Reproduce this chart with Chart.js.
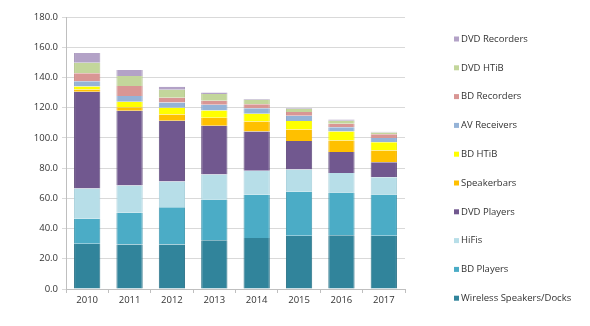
<!DOCTYPE html>
<html>
<head>
<meta charset="utf-8">
<script src="https://cdn.jsdelivr.net/npm/chart.js@4/dist/chart.umd.min.js"></script>
<style>
  html, body { margin: 0; padding: 0; background: #fff; }
  #wrap { width: 590px; height: 326px; position: relative; }
</style>
</head>
<body>
<div id="wrap"><canvas id="units-chart"></canvas></div>
<script>
const years = ['2010', '2011', '2012', '2013', '2014', '2015', '2016', '2017'];

// unit sales per product group, stacked bottom to top
const wirelessSpeakers = [30.0, 29.5, 29.5, 32.3, 33.8, 35.2, 35.6, 35.2];
const bdPlayers        = [16.5, 21.0, 24.6, 27.0, 28.6, 29.2, 28.2, 27.4];
const hifis            = [20.0, 18.0, 17.1, 16.5, 15.9, 14.7, 12.9, 11.4];
const dvdPlayers       = [64.0, 49.4, 40.2, 32.3, 25.9, 18.9, 13.9,  9.9];
const speakerbars      = [ 1.5,  2.3,  4.0,  5.3,  6.6,  7.5,  7.6,  7.7];
const bdHtib           = [ 2.0,  3.7,  4.6,  4.8,  5.2,  5.7,  6.0,  5.5];
const avReceivers      = [ 3.5,  3.9,  3.5,  3.8,  3.6,  3.5,  2.8,  2.9];
const bdRecorders      = [ 5.3,  6.6,  3.1,  2.6,  2.6,  2.4,  2.4,  2.4];
const dvdHtib          = [ 7.0,  6.6,  5.3,  4.4,  3.1,  2.2,  2.0,  1.1];
const dvdRecorders     = [ 6.3,  4.0,  1.9,  1.1,  0.4,  0.5,  0.7,  0.5];

const yTicks = [0, 20, 40, 60, 80, 100, 120, 140, 160, 180];

const series = [
    { label: 'Wireless Speakers/Docks', data: wirelessSpeakers, color: '#31849B', edge: '#2a7287' },
    { label: 'BD Players', data: bdPlayers, color: '#4BACC6', edge: '#4299b0' },
    { label: 'HiFis', data: hifis, color: '#B7DEE8', edge: '#a7d0db' },
    { label: 'DVD Players', data: dvdPlayers, color: '#71588F', edge: '#624c7d' },
    { label: 'Speakerbars', data: speakerbars, color: '#FFC000', edge: '#f0b400' },
    { label: 'BD HTiB', data: bdHtib, color: '#FFFF00', edge: '#f2f200' },
    { label: 'AV Receivers', data: avReceivers, color: '#95B3D7', edge: '#86a3c7' },
    { label: 'BD Recorders', data: bdRecorders, color: '#D99694', edge: '#c98684' },
    { label: 'DVD HTiB', data: dvdHtib, color: '#C3D69B', edge: '#b3c68b' },
    { label: 'DVD Recorders', data: dvdRecorders, color: '#B3A2C7', edge: '#a392b7' }
];

const FONT = '"Open Sans", "DejaVu Sans", sans-serif';
Chart.defaults.font.family = FONT;
Chart.defaults.font.size = 9;
Chart.defaults.color = '#333';

// legend on the right, top entry is the top of the stack
const sideLegend = {
    id: 'sideLegend',
    afterDraw(chart) {
        const ctx = chart.ctx;
        const sets = chart.data.datasets.slice().reverse();
        ctx.save();
        ctx.font = '9.5px ' + FONT;
        ctx.textBaseline = 'middle';
        ctx.textAlign = 'left';
        sets.forEach((ds, i) => {
            const y = 39 + i * 28.8;
            ctx.fillStyle = ds.backgroundColor;
            ctx.fillRect(454, y - 2.5, 5, 5);
            ctx.fillStyle = '#333';
            ctx.fillText(ds.label, 461, y);
        });
        ctx.restore();
    }
};

new Chart(document.getElementById('units-chart'), {
    type: 'bar',
    data: {
        labels: years,
        datasets: series.map(s => ({
            label: s.label,
            data: s.data,
            backgroundColor: s.color,
            borderColor: s.edge,
            borderWidth: { left: 1, right: 1, top: 0, bottom: 0 },
            categoryPercentage: 1,
            barPercentage: 0.62
        }))
    },
    options: {
        responsive: true,
        maintainAspectRatio: false,
        animation: false,
        layout: { padding: { left: 0, top: 17, right: 185, bottom: 16 } },
        plugins: {
            legend: { display: false },
            tooltip: { enabled: false }
        },
        scales: {
            x: {
                stacked: true,
                afterFit(scale) { scale.height = 21; },
                grid: {
                    display: true,
                    drawOnChartArea: false,
                    tickLength: 4,
                    color: '#BFBFBF'
                },
                border: { color: '#BFBFBF' },
                ticks: { padding: 2, font: { size: 9.5 } }
            },
            y: {
                stacked: true,
                min: 0,
                max: 180,
                afterFit(scale) { scale.width = 66; },
                afterBuildTicks(scale) { scale.ticks = yTicks.map(v => ({ value: v })); },
                grid: { color: '#D9D9D9', tickLength: 4 },
                border: { color: '#BFBFBF' },
                ticks: {
                    padding: 4,
                    font: { size: 9.5 },
                    callback: v => Number(v).toFixed(1)
                }
            }
        }
    },
    plugins: [sideLegend]
});
</script>
</body>
</html>
